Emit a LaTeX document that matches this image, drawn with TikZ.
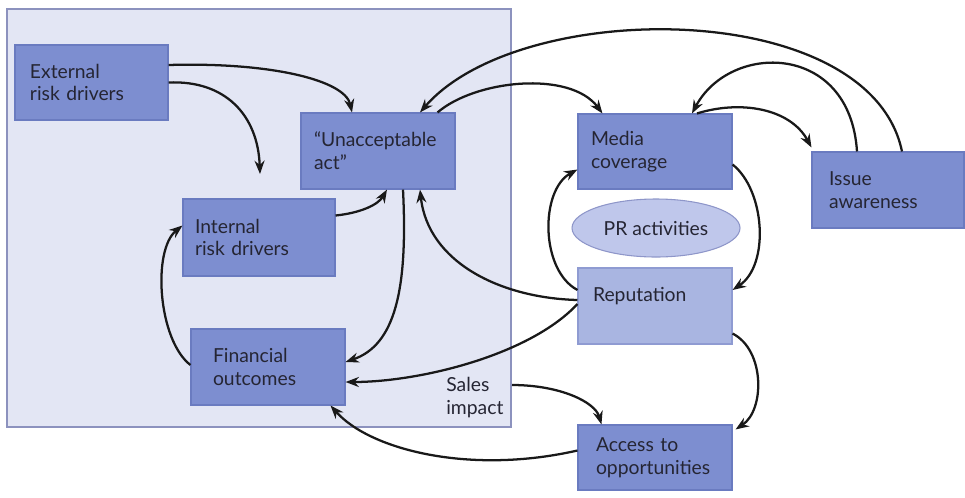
\documentclass[tikz,border=0pt]{standalone}
\usepackage{fontspec}
\setmainfont{Lato}
\usetikzlibrary{arrows.meta,shapes.geometric}
\definecolor{panelfill}{HTML}{E3E6F4}
\definecolor{paneldraw}{HTML}{8C92BE}
\definecolor{boxfill}{HTML}{7D8ED0}
\definecolor{boxdraw}{HTML}{6A7BC0}
\definecolor{repfill}{HTML}{A9B5E1}
\definecolor{repdraw}{HTML}{8F9BD2}
\definecolor{prfill}{HTML}{BFC7EB}
\definecolor{prdraw}{HTML}{8E96C9}
\definecolor{ink}{HTML}{252533}
\begin{document}
\begin{tikzpicture}[x=0.75pt,y=-0.75pt,
  labelfont/.style={font=\fontsize{14.5}{17}\selectfont, text=ink},
  box/.style={draw=boxdraw, fill=boxfill, line width=0.8pt, inner sep=0pt,
              align=left, labelfont},
  lightbox/.style={box, draw=repdraw, fill=repfill},
  link/.style={line width=1.7pt, draw=black!90, -{Stealth[length=10pt,width=7.5pt]}}]

\useasboundingbox (0,0) rectangle (965,497);

% shaded panel holding the internal part of the model
\node[draw=paneldraw, fill=panelfill, line width=0.8pt, inner sep=0pt,
      minimum width=378pt, minimum height=313.5pt] (panel) at (259,218) {};

% boxes
\node[box, minimum width=114.75pt, minimum height=56.25pt, text width=92.25pt]
  (ext) at (91.5,82.5) {External\\risk drivers};
\node[box, minimum width=115.5pt, minimum height=57pt, text width=96pt]
  (act) at (378,151) {“Unacceptable\\act”};
\node[box, minimum width=114pt, minimum height=57.75pt, text width=96pt]
  (int) at (259,237.5) {Internal\\risk drivers};
\node[box, minimum width=115.5pt, minimum height=57pt, text width=82.5pt]
  (fin) at (268,367) {Financial\\outcomes};
\node[box, minimum width=115.5pt, minimum height=56.25pt, text width=96pt]
  (med) at (655,151.5) {Media\\coverage};
\node[box, minimum width=114pt, minimum height=57pt, text width=88.5pt]
  (iss) at (888,190) {Issue\\awareness};
\node[lightbox, minimum width=115.5pt, minimum height=57pt, text width=93pt]
  (rep) at (655,306) {Reputation\\\mbox{}};
\node[box, minimum width=115.5pt, minimum height=48.75pt, text width=88.5pt]
  (acc) at (655,457.5) {Access to\\opportunities};
\node[ellipse, draw=prdraw, fill=prfill, line width=0.8pt, inner sep=0pt,
      minimum width=126pt, minimum height=43.5pt, labelfont]
  (pr) at (656,228) {PR activities};
\node[labelfont, align=left, anchor=north west, inner sep=0pt]
  (sales) at (446,377) {Sales\\impact};

% free ends
\coordinate (drop) at (260,174);
\coordinate (salesout) at (512,385);

% connectors
\draw[link] ([shift={(0,-17.5)}]ext.east) .. controls (270,62) and (345,80) .. ([shift={(-26,0)}]act.north);
\draw[link] (ext.east) .. controls (225,80) and (258,115) .. (drop);
\draw[link] ([shift={(0,-22)}]int.east) .. controls (360,213) and (378,205) .. ([shift={(9,0)}]act.south);
\draw[link] ([shift={(25,0)}]act.south) .. controls (408,290) and (395,345) .. ([shift={(0,-5)}]fin.east);
\draw[link] ([shift={(0,-6)}]rep.west) .. controls (500,298) and (428,262) .. ([shift={(42,0)}]act.south);
\draw[link] ([shift={(0,-2)}]rep.west) .. controls (530,355) and (420,382) .. ([shift={(0,15)}]fin.east);
\draw[link] ([shift={(0,-2)}]fin.west) .. controls (158,340) and (152,250) .. ([shift={(0,-12)}]int.west);
\draw[link] ([shift={(0,-7)}]acc.west) .. controls (470,475) and (370,450) .. ([shift={(-15,0)}]fin.south east);
\draw[link] (salesout) .. controls (560,385) and (595,402) .. ([shift={(24,0)}]acc.north west);
\draw[link] ([shift={(0,-11)}]rep.south east) .. controls (765,350) and (765,410) .. ([shift={(3,5)}]acc.north east);
\draw[link] ([shift={(0,13)}]med.east) .. controls (765,190) and (770,265) .. ([shift={(0,-16)}]rep.east);
\draw[link] ([shift={(0,-16)}]rep.west) .. controls (540,270) and (540,190) .. ([shift={(0,18)}]med.west);
\draw[link] ([shift={(-18,0)}]act.north east) .. controls (475,80) and (570,70) .. ([shift={(25,0)}]med.north west);
\draw[link] ([shift={(-31,0)}]iss.north) .. controls (850,42) and (730,42) .. ([shift={(37,0)}]med.north);
\draw[link] ([shift={(42,0)}]med.north) .. controls (740,100) and (790,108) .. ([shift={(0,-4)}]iss.north west);
\draw[link] ([shift={(14,0)}]iss.north) .. controls (870,-3) and (520,-3) .. ([shift={(42,0)}]act.north);
\end{tikzpicture}
\end{document}
